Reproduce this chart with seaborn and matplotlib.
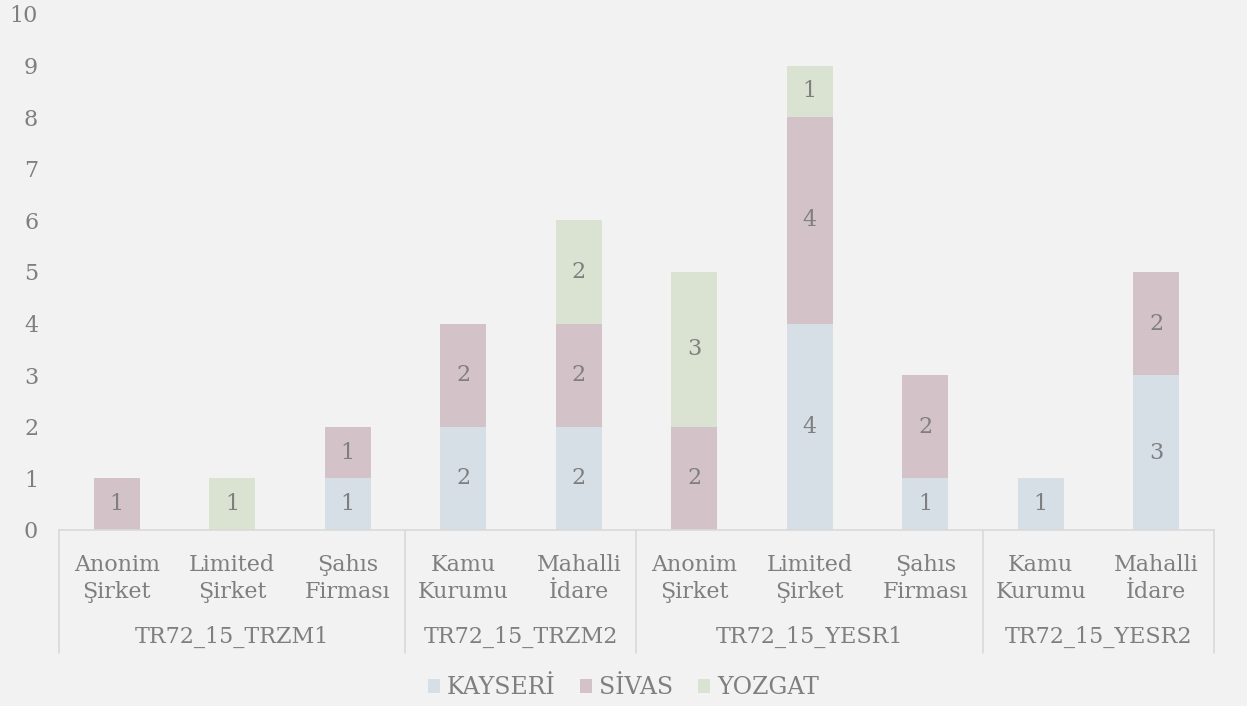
import matplotlib
matplotlib.use("Agg")
import matplotlib.pyplot as plt
import seaborn as sns
import pandas as pd
import numpy as np
from matplotlib.patches import Patch

groups = ["TR72_15_TRZM1", "TR72_15_TRZM2", "TR72_15_YESR1", "TR72_15_YESR2"]
group_sizes = [3, 2, 3, 2]
categories = ["Anonim\nŞirket", "Limited\nŞirket", "Şahıs\nFirması",
              "Kamu\nKurumu", "Mahalli\nİdare",
              "Anonim\nŞirket", "Limited\nŞirket", "Şahıs\nFirması",
              "Kamu\nKurumu", "Mahalli\nİdare"]
series_names = ["KAYSERİ", "SİVAS", "YOZGAT"]
kayseri = [0, 0, 1, 2, 2, 0, 4, 1, 1, 3]
sivas = [1, 0, 1, 2, 2, 2, 4, 2, 0, 2]
yozgat = [0, 1, 0, 0, 2, 3, 1, 0, 0, 0]
colors = ["#D6DEE6", "#D3C2C7", "#DAE2D1"]
yticks = list(range(0, 11))

sns.set_theme(style="white")
plt.rcParams["font.family"] = ["DejaVu Serif"]
text_color = "#7F7F7F"
bg = "#F2F2F2"
fs = 16

fig = plt.figure(figsize=(12.47, 7.06), dpi=100, facecolor=bg)
ax = fig.add_axes([59/1247, (706-530)/706, (1214-59)/1247, (530-14)/706])
ax.set_facecolor(bg)

pos = [f"c{i}" for i in range(len(categories))]
vals = [kayseri, sivas, yozgat]
cum = np.cumsum(np.array(vals), axis=0)

# draw cumulative totals top-down to get stacked look
for k in reversed(range(len(vals))):
    df = pd.DataFrame({"pos": pos, "v": cum[k]})
    sns.barplot(data=df, x="pos", y="v", color=colors[k], width=0.4,
                saturation=1, ax=ax, order=pos, linewidth=0)

# segment labels
for k in range(len(vals)):
    bottoms = cum[k] - np.array(vals[k])
    for i, v in enumerate(vals[k]):
        if v > 0:
            ax.text(i, bottoms[i] + v/2, str(v), ha="center", va="center",
                    fontsize=fs, color=text_color)

ax.set_xlim(-0.5, len(categories) - 0.5)
ax.set_ylim(0, 10)
ax.set_yticks(yticks)
ax.set_yticklabels([str(t) for t in yticks], fontsize=fs, color=text_color)
ax.set_xticks(range(len(categories)))
ax.set_xticklabels(categories, fontsize=fs, color=text_color, linespacing=1.3)
ax.tick_params(axis="y", length=0, pad=15)
ax.tick_params(axis="x", length=0, pad=17.5)
ax.set_xlabel("")
ax.set_ylabel("")
for s in ["left", "right", "top"]:
    ax.spines[s].set_visible(False)
ax.spines["bottom"].set_color("#D9D9D9")
ax.spines["bottom"].set_linewidth(1.2)

# group labels and separators
trans = ax.get_xaxis_transform()
sep_bottom = -(653-530)/516
start = 0
bounds = [-0.5]
for g, n in zip(groups, group_sizes):
    center = start + (n - 1) / 2
    ax.text(center, -(637-530)/516, g, transform=trans, ha="center", va="center",
            fontsize=fs, color=text_color)
    start += n
    bounds.append(start - 0.5)
for b in bounds:
    ax.plot([b, b], [0, sep_bottom], transform=trans, color="#D9D9D9",
            linewidth=1.2, clip_on=False)

handles = [Patch(facecolor=c, edgecolor="none", label=n) for c, n in zip(colors, series_names)]
leg = fig.legend(handles=handles, loc="center", bbox_to_anchor=(0.5, (706-688)/706),
                 ncol=3, frameon=False, fontsize=17, handlelength=0.5,
                 handleheight=0.5, handletextpad=0.3, columnspacing=1.05)
for t in leg.get_texts():
    t.set_color(text_color)

fig.savefig("out.png", dpi=100, facecolor=bg)
